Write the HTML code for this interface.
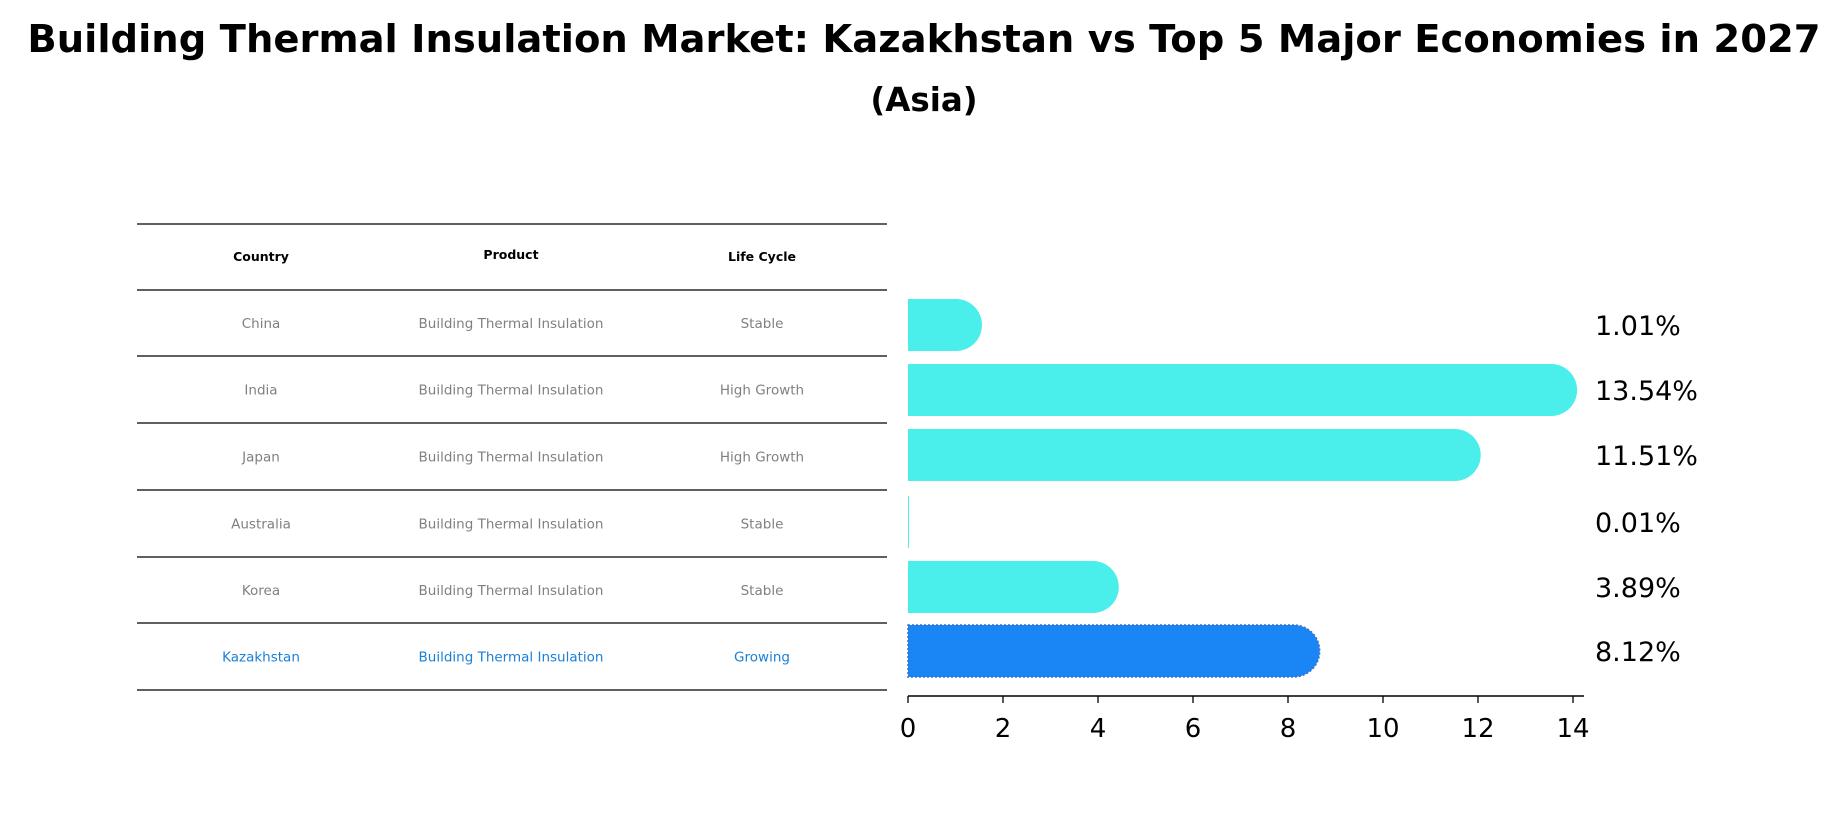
<!DOCTYPE html>
<html><head><meta charset="utf-8"><style>
body{margin:0;background:#fff;}
svg{display:block;font-family:"DejaVu Sans","Liberation Sans",sans-serif;}
</style></head><body>
<svg id="chart" width="1847" height="823" viewBox="0 0 1847 823" xmlns="http://www.w3.org/2000/svg">
<text x="924" y="52" text-anchor="middle" font-size="38.5" font-weight="bold">Building Thermal Insulation Market: Kazakhstan vs Top 5 Major Economies in 2027</text>
<text x="924" y="111" text-anchor="middle" font-size="32.5" font-weight="bold">(Asia)</text>
<g id="table"></g>
<g id="bars"></g>
</svg>
<script>
const countries=["China","India","Japan","Australia","Korea","Kazakhstan"];
const products=["Building Thermal Insulation","Building Thermal Insulation","Building Thermal Insulation","Building Thermal Insulation","Building Thermal Insulation","Building Thermal Insulation"];
const lifeCycles=["Stable","High Growth","High Growth","Stable","Stable","Growing"];
const values=[1.01,13.54,11.51,0.01,3.89,8.12];
const xTicks=[0,2,4,6,8,10,12,14];
const NS="http://www.w3.org/2000/svg";
function mk(tag,attrs,parent,text){const e=document.createElementNS(NS,tag);for(const k in attrs)e.setAttribute(k,attrs[k]);if(text!==undefined)e.textContent=text;parent.appendChild(e);return e;}
const table=document.getElementById('table'),bars=document.getElementById('bars');
const lineYs=[224,290,356,423,490,557,623,690];
const colX=[261,511,762];
lineYs.forEach((y,i)=>{const l=mk('line',{x1:137,x2:887,y1:y,y2:y,stroke:'#000','stroke-width':1.2},table);

});
["Country","Product","Life Cycle"].forEach((h,i)=>{const t=mk('text',{x:colX[i],y:i==1?259:261,'text-anchor':'middle','font-size':12.5,'font-weight':'bold'},table,h);

});
countries.forEach((c,i)=>{const cy=(lineYs[i+1]+lineYs[i+2])/2+5;const col=i==5?'#1a7fd6':'#808080';
[c,products[i],lifeCycles[i]].forEach((v,j)=>{const t=mk('text',{x:colX[j],y:cy,'text-anchor':'middle','font-size':13.5,fill:col},table,v);

});});
const x0=908,ux=47.5;const X=v=>x0+v*ux;
const barCY=[325,390,455,522,587,651];const bh=52;
values.forEach((v,i)=>{const cy=barCY[i],top=cy-bh/2,r=bh/2;const xe=X(v);const kz=i==5;
const fill=kz?'#1a86f5':'#4aeeea';
let p;
if(v<0.05){p=mk('rect',{x:x0,y:top,width:Math.max(1,xe-x0),height:bh,fill:fill},bars);}
else{p=mk('path',{d:`M${x0},${top} H${xe} A${r},${r} 0 0 1 ${xe},${top+bh} H${x0} Z`,fill:fill,stroke:kz?'#3a6fc8':'none','stroke-dasharray':kz?'2,2':'none','stroke-width':kz?1.5:0},bars);}


const t=mk('text',{x:1595,y:cy+10,'font-size':27},bars,v.toFixed(2)+'%');

});
const ax=mk('line',{x1:x0,x2:1584,y1:696,y2:696,stroke:'#000','stroke-width':1.6},bars);


xTicks.forEach(v=>{const tk=mk('line',{x1:X(v),x2:X(v),y1:696,y2:703,stroke:'#000','stroke-width':1.3},bars);


const t=mk('text',{x:X(v),y:737,'text-anchor':'middle','font-size':26},bars,String(v));

});
</script>
</body></html>
